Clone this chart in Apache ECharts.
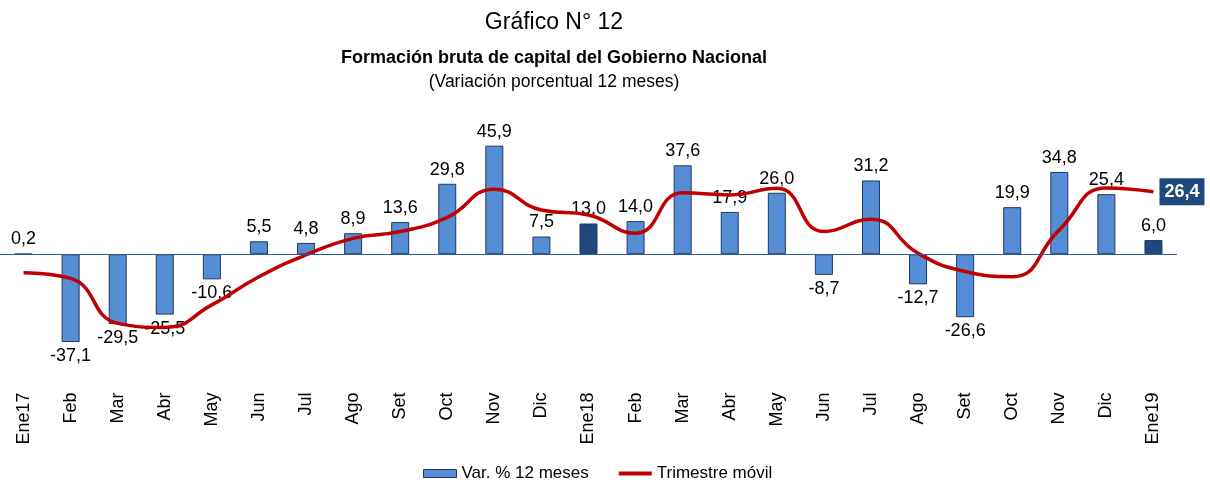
<!DOCTYPE html>
<html lang="es">
<head>
	<meta charset="UTF-8">
	<title>Gráfico N° 12</title>
	<style>
		html, body { margin: 0; padding: 0; background: #fff; }
		#main { width: 1210px; height: 486px; }
	</style>
</head>
<body>
	<div id="main"></div>
	<script src="https://cdn.jsdelivr.net/npm/echarts@6/dist/echarts.min.js"></script>
	<script>
		// meses
		var categorias = ['Ene17','Feb','Mar','Abr','May','Jun','Jul','Ago','Set','Oct','Nov','Dic',
			'Ene18','Feb','Mar','Abr','May','Jun','Jul','Ago','Set','Oct','Nov','Dic','Ene19'];

		// Var. % 12 meses (barras)
		var variacion = [0.2, -37.1, -29.5, -25.5, -10.6, 5.5, 4.8, 8.9, 13.6, 29.8, 45.9, 7.5,
			13.0, 14.0, 37.6, 17.9, 26.0, -8.7, 31.2, -12.7, -26.6, 19.9, 34.8, 25.4, 6.0];

		// Trimestre móvil (línea)
		var trimestre = [-7.8, -10.2, -29.2, -30.9, -21.4, -9.5, -0.3, 6.7, 9.6, 15.6, 27.5, 18.7,
			16.6, 8.9, 26.0, 25.1, 27.9, 9.6, 14.8, 0.4, -7.3, -9.5, 10.3, 28.0, 26.4];

		var fuente = "'Liberation Sans', Arial, sans-serif";
		var coma = function (v) { return v.toFixed(1).replace('.', ','); };

		var myChart = echarts.init(document.getElementById('main'));

		var datosBarra = variacion.map(function (v, i) {
			var item = { value: v, label: { position: v < 0 ? 'bottom' : 'top' } };
			// los meses de enero van en azul oscuro
			if (categorias[i].indexOf('Ene') === 0 && i > 0) {
				item.itemStyle = { color: '#1F497D' };
			}
			return item;
		});

		var option = {
			animation: false,
			textStyle: { fontFamily: fuente },
			graphic: [
				{ type: 'text', x: 554, y: 22.6, style: { text: 'Gráfico N° 12', font: '23px ' + fuente, fill: '#000', align: 'center', verticalAlign: 'middle' } },
				{ type: 'text', x: 554, y: 57.7, style: { text: 'Formación bruta de capital del Gobierno Nacional', font: 'bold 18px ' + fuente, fill: '#000', align: 'center', verticalAlign: 'middle' } },
				{ type: 'text', x: 554, y: 81.8, style: { text: '(Variación porcentual 12 meses)', font: '17.5px ' + fuente, fill: '#000', align: 'center', verticalAlign: 'middle' } }
			],
			legend: {
				left: 423,
				top: 465,
				padding: 0,
				itemWidth: 33,
				itemHeight: 8,
				itemGap: 28,
				textStyle: { fontSize: 17, color: '#000', fontFamily: fuente },
				data: [
					{ name: 'Var. % 12 meses', icon: 'rect', itemStyle: { borderWidth: 1, borderColor: '#1F3864' } },
					{ name: 'Trimestre móvil', itemStyle: { opacity: 0 }, lineStyle: { width: 4 } }
				]
			},
			grid: {
				left: 0,
				right: 33,
				top: 112.3,
				bottom: 101.6
			},
			xAxis: {
				type: 'category',
				data: categorias,
				axisLine: { show: false, onZero: false },
				axisTick: { show: false },
				axisLabel: {
					interval: 0,
					rotate: 90,
					margin: 8,
					fontSize: 18,
					color: '#000',
					fontFamily: fuente
				}
			},
			yAxis: {
				type: 'value',
				min: -55,
				max: 60,
				show: false
			},
			series: [
				{
					name: 'Var. % 12 meses',
					type: 'bar',
					barWidth: 18,
					itemStyle: { color: '#558ED5', borderColor: '#1F3864', borderWidth: 1 },
					label: {
						show: true,
						distance: 5,
						fontSize: 18,
						color: '#000',
						fontFamily: fuente,
						formatter: function (p) { return coma(p.value); }
					},
					markLine: {
						silent: true,
						symbol: 'none',
						label: { show: false },
						lineStyle: { color: '#2E5C9A', width: 1.2, type: 'solid' },
						data: [{ yAxis: 0 }]
					},
					data: datosBarra
				},
				{
					name: 'Trimestre móvil',
					type: 'line',
					smooth: 0.5,
					symbol: 'none',
					lineStyle: { color: '#C00000', width: 3.5 },
					itemStyle: { color: '#C00000' },
					z: 3,
					endLabel: {
						show: true,
						distance: 6,
						formatter: function (p) { return coma(p.value); },
						color: '#fff',
						fontWeight: 'bold',
						fontSize: 18,
						fontFamily: fuente,
						backgroundColor: '#1F497D',
						padding: [5, 5, 4, 5]
					},
					data: trimestre
				}
			]
		};

		myChart.setOption(option);
	</script>
</body>
</html>
